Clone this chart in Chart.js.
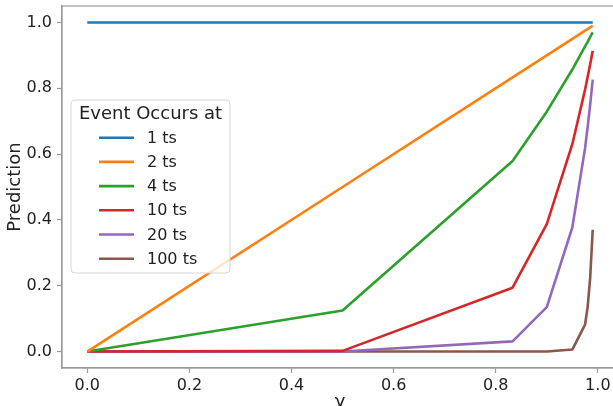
<!DOCTYPE html>
<html>
<head>
<meta charset="utf-8">
<script src="https://cdn.jsdelivr.net/npm/chart.js@4.4.1/dist/chart.umd.min.js"></script>
<style>
  html, body { margin: 0; padding: 0; background: #fff; overflow: hidden; }
  #wrap { position: absolute; left: 0; top: 0; width: 625px; height: 420px; }
</style>
</head>
<body>
<div id="wrap"><canvas id="c" width="625" height="420"></canvas></div>
<script>
// discount factor values (x axis)
const gammas = [0, 0.5, 0.833, 0.9, 0.95, 0.975, 0.98, 0.985, 0.99];

// predicted value for an event occurring after N timesteps
const seriesNames = ['1 ts', '2 ts', '4 ts', '10 ts', '20 ts', '100 ts'];
const pred1   = [1, 1, 1, 1, 1, 1, 1, 1, 1];
const pred2   = [0, 0.5, 0.833, 0.9, 0.95, 0.975, 0.98, 0.985, 0.99];
const pred4   = [0, 0.125, 0.579, 0.729, 0.857, 0.927, 0.941, 0.956, 0.970];
const pred10  = [0, 0.002, 0.194, 0.387, 0.630, 0.796, 0.834, 0.873, 0.914];
const pred20  = [0, 0.000, 0.031, 0.135, 0.377, 0.618, 0.681, 0.750, 0.826];
const pred100 = [0, 0, 0, 0, 0.006, 0.082, 0.135, 0.224, 0.370];

const xTicks = [0, 0.2, 0.4, 0.6, 0.8, 1.0];
const yTicks = [0, 0.2, 0.4, 0.6, 0.8, 1.0];

const colors = ['#1f77b4', '#ff7f0e', '#2ca02c', '#d62728', '#9467bd', '#8c564b'];
const allSeries = [pred1, pred2, pred4, pred10, pred20, pred100];

const FONT = 'DejaVu Sans';
const TEXT = '#222222';
const SPINE = '#9a9a9a';

const datasets = allSeries.map((vals, i) => ({
  label: seriesNames[i],
  data: gammas.map((g, k) => ({ x: g, y: vals[k] })),
  borderColor: colors[i],
  backgroundColor: colors[i],
  borderWidth: 2.6,
  pointRadius: 0,
  showLine: true,
  tension: 0,
  borderJoinStyle: 'round',
  fill: false
}));

// full frame around the plotting area
const framePlugin = {
  id: 'frame',
  afterDatasetsDraw(chart) {
    const { ctx, chartArea: a } = chart;
    ctx.save();
    ctx.strokeStyle = SPINE;
    ctx.lineWidth = 1.2;
    ctx.strokeRect(a.left, a.top, a.right - a.left, a.bottom - a.top);
    ctx.restore();
  }
};

// boxed legend with title, placed inside the plot
const legendBoxPlugin = {
  id: 'legendBox',
  afterDatasetsDraw(chart) {
    const ctx = chart.ctx;
    const x = 71, y = 100, w = 159, h = 173, r = 4;
    ctx.save();
    ctx.beginPath();
    ctx.moveTo(x + r, y);
    ctx.arcTo(x + w, y, x + w, y + h, r);
    ctx.arcTo(x + w, y + h, x, y + h, r);
    ctx.arcTo(x, y + h, x, y, r);
    ctx.arcTo(x, y, x + w, y, r);
    ctx.closePath();
    ctx.fillStyle = 'rgba(255,255,255,0.8)';
    ctx.fill();
    ctx.strokeStyle = '#d6d6d6';
    ctx.lineWidth = 1;
    ctx.stroke();

    ctx.fillStyle = TEXT;
    ctx.textBaseline = 'middle';
    ctx.textAlign = 'center';
    ctx.font = '18px "' + FONT + '"';
    ctx.fillText('Event Occurs at', x + w / 2, 114);

    ctx.font = '16px "' + FONT + '"';
    ctx.textAlign = 'left';
    chart.data.datasets.forEach((ds, i) => {
      const ly = 137.7 + 24.2 * i;
      ctx.beginPath();
      ctx.moveTo(99, ly);
      ctx.lineTo(134, ly);
      ctx.strokeStyle = ds.borderColor;
      ctx.lineWidth = 2.6;
      ctx.stroke();
      ctx.fillStyle = TEXT;
      ctx.fillText(ds.label, 147, ly + 1);
    });
    ctx.restore();
  }
};

new Chart(document.getElementById('c'), {
  type: 'scatter',
  data: { datasets },
  plugins: [framePlugin, legendBoxPlugin],
  options: {
    responsive: false,
    animation: false,
    devicePixelRatio: 1,
    layout: { padding: { top: 6, right: 7, left: 0, bottom: 0 } },
    plugins: { legend: { display: false }, tooltip: { enabled: false } },
    scales: {
      x: {
        type: 'linear',
        min: -0.0495,
        max: 1.0395,
        afterFit(scale) { scale.height = 52; scale.paddingLeft = 0; scale.paddingRight = 0; },
        afterBuildTicks(scale) { scale.ticks = xTicks.map(v => ({ value: v })); },
        grid: { drawOnChartArea: false, drawTicks: true, tickLength: 5, color: SPINE, tickWidth: 1.2 },
        border: { display: true, color: SPINE, width: 1.2 },
        ticks: {
          color: TEXT,
          font: { family: FONT, size: 16 },
          padding: 3,
          maxRotation: 0,
          callback: v => v.toFixed(1)
        },
        title: {
          display: true,
          text: 'γ',
          color: TEXT,
          font: { family: FONT, size: 18 },
          padding: { top: 0, bottom: 7 }
        }
      },
      y: {
        type: 'linear',
        min: -0.05,
        max: 1.05,
        afterFit(scale) { scale.width = 62; scale.paddingTop = 0; scale.paddingBottom = 0; },
        afterBuildTicks(scale) { scale.ticks = yTicks.map(v => ({ value: v })); },
        grid: { drawOnChartArea: false, drawTicks: true, tickLength: 5, color: SPINE, tickWidth: 1.2 },
        border: { display: true, color: SPINE, width: 1.2 },
        ticks: {
          color: TEXT,
          font: { family: FONT, size: 16 },
          padding: 5,
          callback: v => v.toFixed(1)
        },
        title: {
          display: true,
          text: 'Prediction',
          color: TEXT,
          font: { family: FONT, size: 18 },
          padding: { top: 5, bottom: 0 }
        }
      }
    }
  }
});
</script>
</body>
</html>
